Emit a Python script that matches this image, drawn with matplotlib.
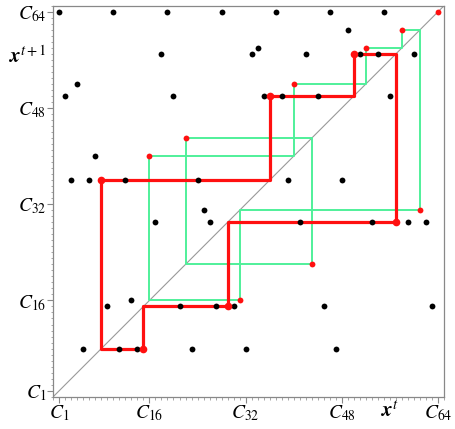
import matplotlib.pyplot as plt
from matplotlib.ticker import MultipleLocator

plt.rcParams['mathtext.fontset'] = 'stix'

# map x^t -> x^{t+1}, for x = 1..64
xs = list(range(1, 65))
ys = [64, 50, 36, 52, 8, 36, 40, 36, 15, 64,
      8, 36, 16, 8, 8, 40, 29, 57, 64, 50,
      15, 43, 8, 36, 31, 29, 15, 64, 15, 15,
      16, 8, 57, 58, 50, 50, 64, 50, 36, 52,
      29, 57, 22, 50, 15, 64, 8, 36, 61, 57,
      57, 58, 29, 57, 64, 50, 29, 61, 29, 57,
      31, 29, 15, 64]
fmap = dict(zip(xs, ys))

main_cycle = [15, 8, 36, 50, 57, 29]      # red
other_cycles = [[58, 61, 31, 16, 40, 52], [22, 43], [64]]   # green

tick_pos = [1, 16, 32, 48, 64]
tick_lab = [r'$C_{1}$', r'$C_{16}$', r'$C_{32}$', r'$C_{48}$', r'$C_{64}$']


def cobweb(cyc):
    px, py = [], []
    for x in cyc + [cyc[0]]:
        y = fmap[x]
        px += [x, y]
        py += [y, y]
    return px[:-1], py[:-1]


fig = plt.figure(figsize=(4.55, 4.29), dpi=100)
ax = fig.add_axes([0.117, 0.0753, 0.859, 0.9114])

ax.plot([0, 65], [0, 65], color='#999999', lw=0.8, zorder=1)

for cyc in other_cycles:
    if len(cyc) > 1:
        gx, gy = cobweb(cyc)
        ax.plot(gx, gy, color='#4ff09a', lw=1.4, zorder=2)

rx, ry = cobweb(main_cycle)
ax.plot(rx, ry, color='#ff1010', lw=2.3, zorder=3)

cyc_pts = set(main_cycle) | {x for c in other_cycles for x in c}
bx = [x for x in xs if x not in cyc_pts]
ax.plot(bx, [fmap[x] for x in bx], 'o', color='black', ms=4.2, mew=0, zorder=4)

sx = [x for c in other_cycles for x in c]
ax.plot(sx, [fmap[x] for x in sx], 'o', color='#ff1010', ms=4.2, mew=0, zorder=5)
ax.plot(main_cycle, [fmap[x] for x in main_cycle], 'o', color='#ff1010',
        ms=5.5, mew=0, zorder=5)

ax.set_xlim(0, 65)
ax.set_ylim(0, 65)
ax.set_xticks(tick_pos)
ax.set_xticklabels(tick_lab)
ax.set_yticks(tick_pos)
ax.set_yticklabels(tick_lab)
ax.xaxis.set_minor_locator(MultipleLocator(1))
ax.yaxis.set_minor_locator(MultipleLocator(1))
ax.tick_params(which='major', length=4, width=0.8, color='#888888',
               labelsize=14, pad=1)
ax.tick_params(which='minor', length=1.8, width=0.6, color='#999999')
for s in ax.spines.values():
    s.set_color('#888888')
    s.set_linewidth(0.9)

fig.text(390 / 455, 1 - 410 / 429, r'$\mathbfit{x}^{t}$', fontsize=15,
         ha='center', va='center')
fig.text(28 / 455, 1 - 56 / 429, r'$\mathbfit{x}^{t+1}$', fontsize=15,
         ha='center', va='center')

fig.savefig('out.png', dpi=100)
